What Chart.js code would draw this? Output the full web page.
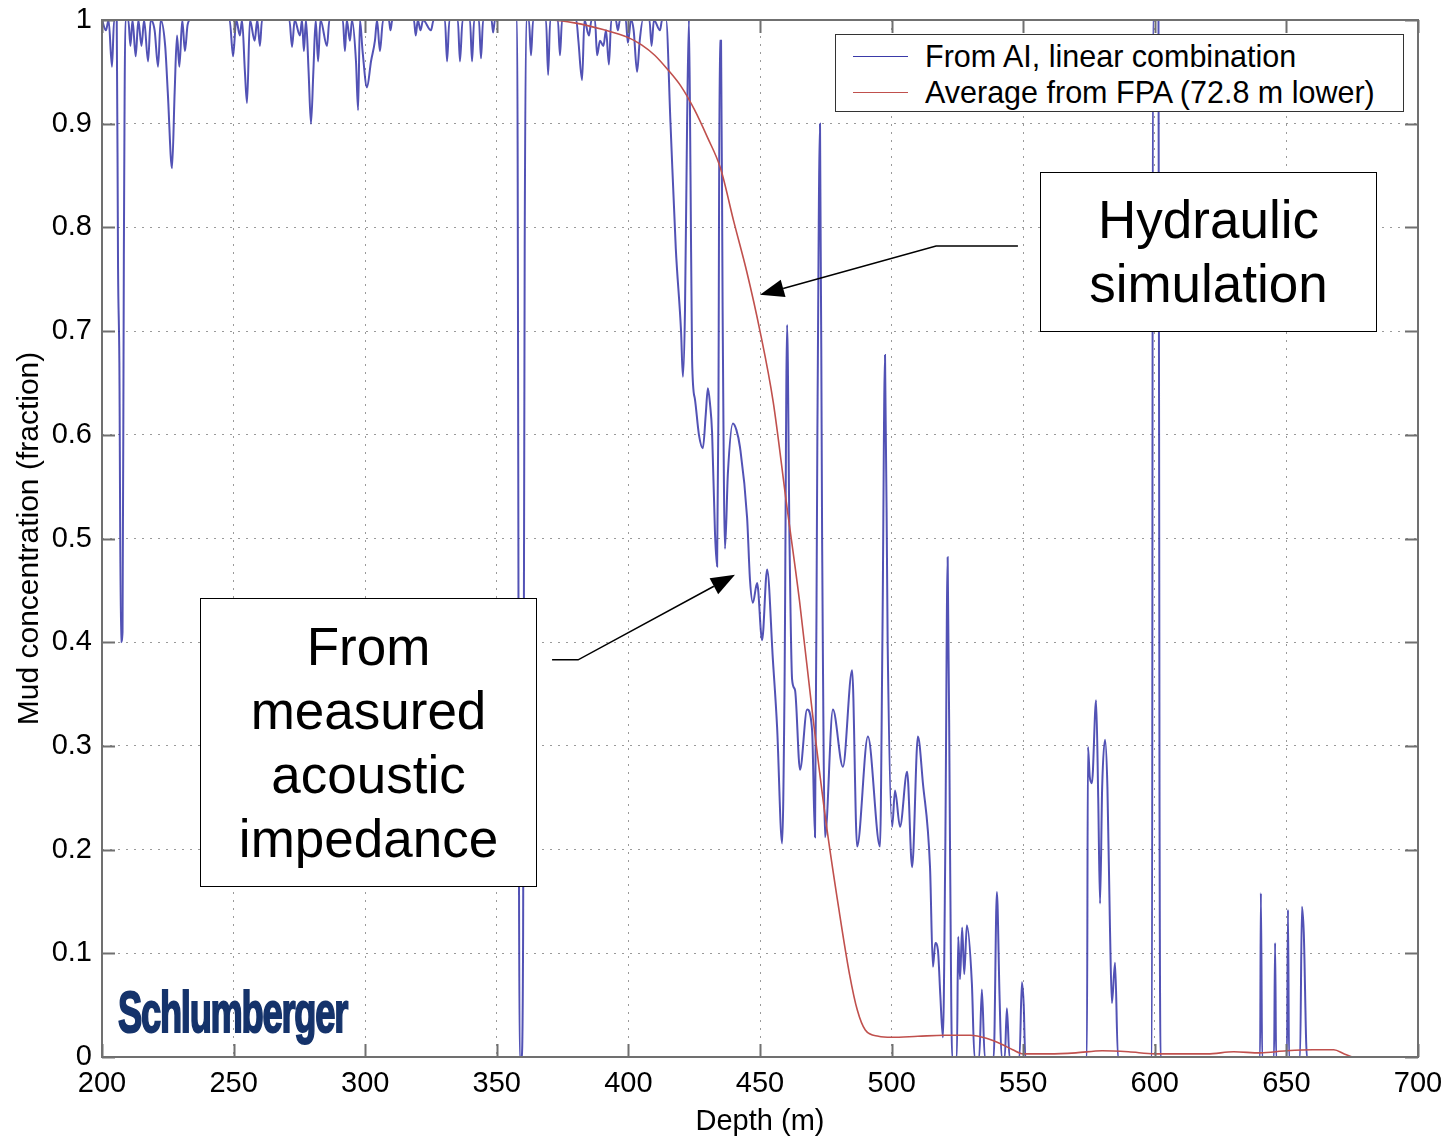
<!DOCTYPE html>
<html>
<head>
<meta charset="utf-8">
<title>Mud concentration vs depth</title>
<script src="https://cdn.jsdelivr.net/npm/chart.js@4.4.1/dist/chart.umd.min.js"></script>
<style>
  html, body { margin: 0; padding: 0; background: #fff; }
  #wrap { position: relative; width: 1455px; height: 1139px; font-family: "Liberation Sans", Arial, sans-serif; color: #000; }
  #c { position: absolute; left: 0; top: 0; }
  .legend { position: absolute; left: 835px; top: 34px; width: 567px; height: 76px; border: 1.5px solid #333; background: #fff; font-size: 30.5px; }
  .legend .row { position: absolute; left: 0; height: 36px; line-height: 36px; white-space: nowrap; }
  .legend .sw { position: absolute; left: 17px; top: 18px; width: 55px; height: 0; border-top: 1.5px solid; }
  .legend .tx { position: absolute; left: 89px; top: 0; }
  .note { position: absolute; border: 1.5px solid #000; background: #fff; font-size: 53px; line-height: 64px; text-align: center;
          display: flex; align-items: center; justify-content: center; }
  .logo { position: absolute; left: 118px; top: 983px; font-family: "Liberation Sans Narrow", "Liberation Sans", Arial, sans-serif;
          font-weight: bold; font-size: 58px; line-height: 58px; color: #15336b; -webkit-text-stroke: 2px #15336b;
          letter-spacing: -2px; transform-origin: 0 0; white-space: nowrap; }
</style>
</head>
<body>
<div id="wrap">
  <canvas id="c" width="1455" height="1139"></canvas>
  <div class="legend">
    <div class="row" style="top:3px"><span class="sw" style="border-color:#3a3aa8"></span><span class="tx">From AI, linear combination</span></div>
    <div class="row" style="top:39px"><span class="sw" style="border-color:#c0504d"></span><span class="tx">Average from FPA (72.8 m lower)</span></div>
  </div>
  <div class="note" style="left:1040px;top:172px;width:335px;height:158px">Hydraulic<br>simulation</div>
  <div class="note" style="left:200px;top:598px;width:335px;height:287px">From<br>measured<br>acoustic<br>impedance</div>
  <div class="logo" id="logo">Schlumberger</div>
</div>
<script>
// blue trace: mud fraction from acoustic impedance
var DEPTH_AI = [
  200, 201.5, 202.5, 203.8, 204.6, 205.6, 206.1, 206.6, 207.2, 207.8, 208.3, 208.9, 210, 210.8, 211.6, 212.8, 213.8, 215, 216, 217.5,
  218.5, 220, 221.3, 222.3, 224, 225, 226.6, 227.6, 228.5, 229.4, 230.5, 231.5, 232.5, 233.5, 248.5, 249.8, 251, 252.4, 253.2, 254.3,
  255.1, 256.2, 258, 259, 260, 260.8, 271.2, 272.2, 273.2, 275.2, 276, 276.7, 277.5, 278.5, 279.4, 280.3, 281.2, 282.1, 283, 285.5,
  286.4, 291.5, 292.3, 293, 294.2, 295, 296.5, 297.3, 298, 299, 300.7, 302.2, 303.7, 304.5, 305.6, 306.8, 309, 309.6, 310.3, 318.5,
  319.2, 320, 321, 322, 325, 326, 330.3, 331.1, 332, 335.2, 336, 337, 339.8, 340.6, 341.4, 343.2, 344, 344.8, 348, 348.6,
  349.3, 357.7, 358.7, 359.4, 360, 360.6, 361.2, 362.2, 363, 363.8, 368.7, 369.5, 370.3, 373.2, 374, 374.8, 380.2, 381, 382.4, 383.3,
  385, 386, 387.3, 388.1, 389.2, 390.5, 391.5, 392.6, 393.5, 395.2, 396, 396.8, 399, 399.8, 401, 402, 403.3, 404.3, 405.5, 408,
  408.8, 409.7, 412, 412.8, 414.3, 416, 418, 420, 420.7, 421.5, 422.3, 423, 423.6, 424.2, 425.3, 426.8, 428.3, 429.4, 430.2, 431,
  431.8, 432.9, 433.7, 434.2, 434.7, 435.2, 435.8, 436.7, 437.8, 439.7, 441, 442.4, 445.1, 446.2, 447.3, 448.9, 450.8, 452.7, 454.9, 456.5,
  458.4, 459.3, 460.3, 461.2, 462.2, 463.3, 465.2, 467.9, 469.8, 470.9, 471.8, 472.8, 473.6, 474.7, 477.7, 481.5, 485, 486.9, 491, 495.6,
  496.5, 497.5, 498.5, 500.2, 501.3, 503.2, 505.9, 507.8, 510, 511.9, 514.6, 515.7, 516.6, 517.6, 518.5, 519.5, 520.4, 521.3, 522.2, 523,
  524.8, 525.3, 526, 526.8, 527.6, 528.6, 530.5, 531.5, 533.3, 534.3, 535.4, 538.8, 540, 541, 541.8, 543, 543.8, 544.8, 548.6, 549.5,
  550.2, 550.8, 574.2, 574.6, 575.3, 576.1, 577.7, 578.5, 579.2, 580, 581.1, 582, 583, 583.7, 584.9, 586, 598.9, 599.3, 601.4, 601.8,
  602.2, 640, 640.3, 640.8, 645.3, 645.7, 646.1, 650.2, 650.6, 651, 655.2, 655.9, 656.6, 657.8, 660
];
var FRAC_AI = [
  1, 0.99, 1, 0.955, 1, 1, 0.76, 0.67, 0.40, 0.41, 0.77, 1, 1, 0.975, 1, 0.965, 1, 0.975, 1, 0.96,
  1, 0.99, 0.955, 1, 0.975, 0.93, 0.857, 0.93, 0.985, 0.955, 1, 0.97, 0.995, 1, 1, 0.965, 1, 0.985, 1, 0.95,
  0.92, 1, 0.98, 1, 0.975, 1, 1, 0.974, 1, 0.985, 1, 0.97, 1, 0.95, 0.9, 0.95, 1, 0.96, 1, 0.975,
  1, 1, 0.97, 1, 0.98, 1, 0.96, 0.913, 1, 0.97, 0.935, 0.96, 0.98, 1, 0.97, 1, 1, 0.99, 1, 1,
  0.985, 1, 0.99, 1, 0.99, 1, 1, 0.96, 1, 1, 0.96, 1, 1, 0.96, 1, 1, 0.963, 1, 1, 0.988,
  1, 1, 0, 0, 0.12, 0.78, 1, 1, 0.966, 1, 1, 0.947, 1, 1, 0.966, 1, 1, 0.98, 0.942, 1,
  0.985, 1, 1, 0.966, 0.98, 0.975, 0.99, 0.957, 1, 1, 0.99, 1, 1, 0.978, 1, 0.99, 0.95, 0.98, 1, 1,
  0.975, 1, 0.99, 1, 1, 0.9, 0.78, 0.7, 0.656, 0.72, 0.9, 1, 0.85, 0.672, 0.634, 0.6, 0.587, 0.62, 0.645, 0.63,
  0.602, 0.505, 0.473, 0.62, 0.98, 0.98, 0.72, 0.49, 0.563, 0.611, 0.605, 0.588, 0.52, 0.46, 0.438, 0.457, 0.402, 0.47, 0.383, 0.318,
  0.206, 0.35, 0.706, 0.5, 0.364, 0.354, 0.277, 0.335, 0.315, 0.212, 0.6, 0.9, 0.5, 0.212, 0.335, 0.28, 0.373, 0.203, 0.309, 0.203,
  0.4, 0.677, 0.4, 0.222, 0.257, 0.222, 0.275, 0.183, 0.309, 0.264, 0.183, 0.087, 0.11, 0.103, 0.06, 0.019, 0.2, 0.482, 0.2, 0,
  0, 0.116, 0.075, 0.125, 0.08, 0.127, 0.071, 0, 0, 0.065, 0, 0, 0.159, 0.06, 0, 0, 0.047, 0, 0, 0.072,
  0.05, 0, 0, 0.299, 0.27, 0.264, 0.344, 0.25, 0.148, 0.26, 0.306, 0.26, 0.12, 0.052, 0.091, 0, 0, 1, 1, 0.24,
  0, 0, 0.158, 0, 0, 0.11, 0, 0, 0.142, 0, 0, 0.145, 0.12, 0, 0
];
// red trace: average from FPA hydraulic simulation
var DEPTH_FPA = [200, 370, 380, 390, 400, 405, 410, 415, 420, 425, 430, 435, 440, 445, 450, 455, 460, 465, 470, 475,
  480, 484, 487, 490, 495, 500, 510, 520, 530, 536, 542, 546, 550, 560, 570, 580, 590, 600, 610, 620,
  630, 640, 650, 660, 668, 672, 675];
var FRAC_FPA = [1, 1, 0.997, 0.991, 0.983, 0.976, 0.966, 0.952, 0.936, 0.914, 0.887, 0.857, 0.806, 0.757, 0.7, 0.632, 0.535, 0.44, 0.33, 0.228,
  0.142, 0.08, 0.045, 0.026, 0.02, 0.019, 0.02, 0.021, 0.021, 0.018, 0.012, 0.007, 0.003, 0.003, 0.004, 0.006, 0.005, 0.003, 0.003, 0.003,
  0.005, 0.004, 0.006, 0.007, 0.007, 0.003, 0];

var X_TICKS = [200, 250, 300, 350, 400, 450, 500, 550, 600, 650, 700];
var Y_TICKS = [0, 0.1, 0.2, 0.3, 0.4, 0.5, 0.6, 0.7, 0.8, 0.9, 1];

// annotation arrows, in data units (depth, fraction)
var ARROWS = [
  [[548.0, 0.782], [516.9, 0.782], [450.0, 0.735]],
  [[371.0, 0.383], [380.9, 0.383], [440.5, 0.465]]
];

var FONT = '"Liberation Sans", Arial, sans-serif';

function zip(xs, ys) { return xs.map(function (x, i) { return { x: x, y: ys[i] }; }); }

// MATLAB-style box: full frame, inward ticks, annotation arrows
var frame = {
  id: 'frame',
  afterDatasetsDraw: function (chart) {
    var c = chart.ctx, a = chart.chartArea, sx = chart.scales.x, sy = chart.scales.y, TL = 13;
    c.save();
    c.strokeStyle = '#707070'; c.lineWidth = 2;
    c.beginPath();
    X_TICKS.forEach(function (v) {
      var p = Math.round(sx.getPixelForValue(v)) + 0.5;
      c.moveTo(p, a.bottom); c.lineTo(p, a.bottom - TL);
      c.moveTo(p, a.top); c.lineTo(p, a.top + TL);
    });
    Y_TICKS.forEach(function (v) {
      var p = Math.round(sy.getPixelForValue(v)) + 0.5;
      c.moveTo(a.left, p); c.lineTo(a.left + TL, p);
      c.moveTo(a.right, p); c.lineTo(a.right - TL, p);
    });
    c.stroke();
    c.strokeRect(a.left, a.top, a.right - a.left, a.bottom - a.top);
    c.restore();
  },
  afterDraw: function (chart) {
    var c = chart.ctx, sx = chart.scales.x, sy = chart.scales.y;
    c.save();
    c.strokeStyle = '#000'; c.fillStyle = '#000'; c.lineWidth = 1.5;
    ARROWS.forEach(function (pts) {
      var P = pts.map(function (p) { return [sx.getPixelForValue(p[0]), sy.getPixelForValue(p[1])]; });
      var n = P.length, e = P[n - 1], s = P[n - 2];
      var ang = Math.atan2(e[1] - s[1], e[0] - s[0]), L = 24, W = 9;
      var bx = e[0] - L * Math.cos(ang), by = e[1] - L * Math.sin(ang);
      c.beginPath(); c.moveTo(P[0][0], P[0][1]);
      for (var i = 1; i < n - 1; i++) c.lineTo(P[i][0], P[i][1]);
      c.lineTo(bx, by); c.stroke();
      c.beginPath(); c.moveTo(e[0], e[1]);
      c.lineTo(bx + W * Math.sin(ang), by - W * Math.cos(ang));
      c.lineTo(bx - W * Math.sin(ang), by + W * Math.cos(ang));
      c.closePath(); c.fill();
    });
    c.restore();
  }
};

var gridOpts = { color: '#9a9a9a', lineWidth: 1, drawTicks: false };
var borderOpts = { display: false, dash: [2, 6] };

new Chart(document.getElementById('c'), {
  type: 'line',
  data: {
    datasets: [
      { label: 'From AI, linear combination', data: zip(DEPTH_AI, FRAC_AI), borderColor: 'rgba(52,52,168,0.85)',
        borderWidth: 2, pointRadius: 0, cubicInterpolationMode: 'monotone', order: 2 },
      { label: 'Average from FPA (72.8 m lower)', data: zip(DEPTH_FPA, FRAC_FPA), borderColor: '#c0504d',
        borderWidth: 1.6, pointRadius: 0, cubicInterpolationMode: 'monotone', order: 1 }
    ]
  },
  options: {
    responsive: false, animation: false, events: [],
    layout: { padding: { top: 20, right: 37, left: 0, bottom: 0 } },
    plugins: { legend: { display: false }, tooltip: { enabled: false } },
    scales: {
      x: {
        type: 'linear', min: 200, max: 700,
        afterBuildTicks: function (s) { s.ticks = X_TICKS.map(function (v) { return { value: v }; }); },
        afterFit: function (s) { s.height = 82; },
        grid: gridOpts, border: borderOpts,
        ticks: { color: '#000', font: { family: FONT, size: 29, lineHeight: 1 }, padding: 12, maxRotation: 0, autoSkip: false,
                 callback: function (v) { return String(v); } },
        title: { display: true, text: 'Depth (m)', color: '#000', font: { family: FONT, size: 29 }, padding: { top: 0, bottom: 0 } }
      },
      y: {
        type: 'linear', min: 0, max: 1,
        afterBuildTicks: function (s) { s.ticks = Y_TICKS.map(function (v) { return { value: v }; }); },
        afterFit: function (s) { s.width = 102; },
        grid: gridOpts, border: borderOpts,
        ticks: { color: '#000', font: { family: FONT, size: 29, lineHeight: 0.6 }, padding: 10, autoSkip: false,
                 callback: function (v) { return String(+(+v).toFixed(1)); } },
        title: { display: true, text: 'Mud concentration (fraction)', color: '#000', font: { family: FONT, size: 30 }, padding: { top: 12, bottom: 0 } }
      }
    }
  },
  plugins: [frame]
});

// squeeze the wordmark to its width in the original
var logo = document.getElementById('logo');
logo.style.transform = 'scaleX(' + (229 / logo.offsetWidth) + ')';
</script>
</body>
</html>
